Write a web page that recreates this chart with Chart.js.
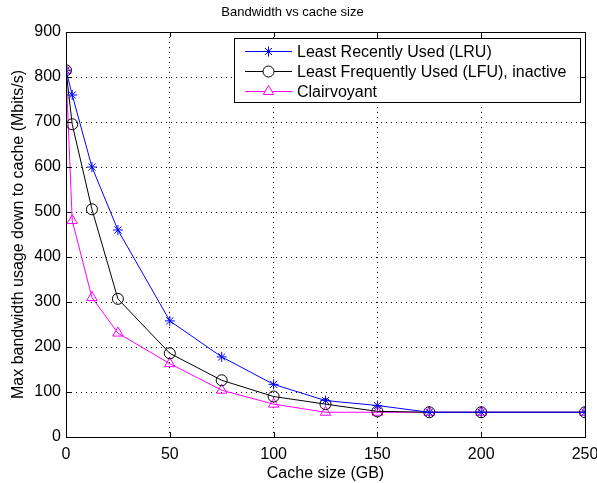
<!DOCTYPE html>
<html><head><meta charset="utf-8">
<script src="https://cdn.jsdelivr.net/npm/chart.js@4"></script>
<style>html,body{margin:0;padding:0;background:#fff}#wrap{width:597px;height:483px}</style>
</head><body><div id="wrap"><canvas id="c" width="597" height="483"></canvas></div>
<script>
const cacheSizes = [0, 3, 12.5, 25, 50, 75, 100, 125, 150, 175, 200, 250];
const lruValues = [815, 760, 600, 460, 258, 178, 117, 81, 70, 55, 55, 55];
const lfuValues = [815, 695, 506, 307, 186, 126, 90, 73, 57, 55, 55, 55];
const clairValues = [815, 481, 310, 231, 163, 104, 73, 55, 55, 55, 55, 55];
const seriesLabels = ['Least Recently Used (LRU)', 'Least Frequently Used (LFU), inactive', 'Clairvoyant'];
const xTicks = [0, 50, 100, 150, 200, 250];
const yTicks = [0, 100, 200, 300, 400, 500, 600, 700, 800, 900];
const FONT = 'Liberation Sans, Arial, Helvetica, sans-serif';

function pts(vals){ return cacheSizes.map((x,i)=>({x:x,y:vals[i]})); }

const boxPlugin = {
  id:'boxPlugin',
  afterDraw(chart){
    const {ctx, chartArea:a, scales} = chart;
    ctx.save();
    ctx.strokeStyle='#000'; ctx.lineWidth=1;
    ctx.strokeRect(Math.round(a.left)+0.5, Math.round(a.top)+0.5, Math.round(a.right-a.left), Math.round(a.bottom-a.top));
    const L=5;
    ctx.beginPath();
    xTicks.forEach(v=>{const px=Math.round(scales.x.getPixelForValue(v))+0.5;
      ctx.moveTo(px,a.bottom); ctx.lineTo(px,a.bottom-L);
      ctx.moveTo(px,a.top); ctx.lineTo(px,a.top+L);});
    yTicks.forEach(v=>{const py=Math.round(scales.y.getPixelForValue(v))+0.5;
      ctx.moveTo(a.left,py); ctx.lineTo(a.left+L,py);
      ctx.moveTo(a.right,py); ctx.lineTo(a.right-L,py);});
    ctx.stroke();
    // legend
    const lx=234.5, ly=38.5, lw=346, lh=64;
    ctx.fillStyle='#fff'; ctx.fillRect(lx,ly,lw,lh);
    ctx.strokeRect(lx,ly,lw,lh);
    ctx.font='16px '+FONT; ctx.textBaseline='middle'; ctx.textAlign='left';
    chart.data.datasets.forEach((ds,i)=>{
      const y=51.5+i*20;
      ctx.strokeStyle=ds.borderColor; ctx.lineWidth=1;
      ctx.beginPath(); ctx.moveTo(245,y); ctx.lineTo(292,y); ctx.stroke();
      ctx.fillStyle='#fff';
      Chart.helpers.drawPoint(ctx,{pointStyle:ds.pointStyle,rotation:0,radius:ds.pointRadius,borderWidth:1},268.5,y);
      ctx.fillStyle='#000'; ctx.fillText(ds.label,297,y+1);
    });
    ctx.restore();
  }
};

new Chart(document.getElementById('c'),{
  type:'line',
  data:{datasets:[
    {label:seriesLabels[0],data:pts(lruValues),borderColor:'#0000ff',backgroundColor:'rgba(0,0,0,0)',pointStyle:'star',pointRadius:5,pointBorderColor:'#0000ff',pointBorderWidth:1,borderWidth:1,tension:0},
    {label:seriesLabels[1],data:pts(lfuValues),borderColor:'#000000',backgroundColor:'rgba(0,0,0,0)',pointStyle:'circle',pointRadius:5.5,pointBorderColor:'#000',pointBorderWidth:1,borderWidth:1,tension:0},
    {label:seriesLabels[2],data:pts(clairValues),borderColor:'#ff00ff',backgroundColor:'rgba(0,0,0,0)',pointStyle:'triangle',pointRadius:6,pointBorderColor:'#ff00ff',pointBorderWidth:1,borderWidth:1,tension:0}
  ]},
  options:{
    responsive:false, animation:false,
    layout:{padding:{left:0,right:12,top:0,bottom:0}},
    plugins:{
      legend:{display:false}, tooltip:{enabled:false},
      title:{display:true,text:'Bandwidth vs cache size',color:'#000',font:{family:FONT,size:13,weight:'normal'},padding:{top:5,bottom:11.4}}
    },
    scales:{
      x:{type:'linear',min:0,max:250,
        afterBuildTicks(s){s.ticks=xTicks.map(v=>({value:v}));},
        afterFit(s){s.height=46; s.paddingLeft=0; s.paddingRight=0;},
        grid:{color:'#000',lineWidth:1,tickLength:0,drawTicks:false},
        border:{display:false,dash:[1,4]},
        ticks:{color:'#000',font:{family:FONT,size:16},padding:8,maxRotation:0},
        title:{display:true,text:'Cache size (GB)',color:'#000',font:{family:FONT,size:16},padding:{top:0,bottom:0}}
      },
      y:{type:'linear',min:0,max:900,
        afterBuildTicks(s){s.ticks=yTicks.map(v=>({value:v}));},
        afterFit(s){s.width=66; s.paddingTop=0; s.paddingBottom=0;},
        grid:{color:'#000',lineWidth:1,drawTicks:false,tickLength:0},
        border:{display:false,dash:[1,4]},
        ticks:{color:'#000',font:{family:FONT,size:16},padding:5},
        title:{display:true,text:'Max bandwidth usage down to cache (Mbits/s)',color:'#000',font:{family:FONT,size:16},padding:{top:9,bottom:4}}
      }
    }
  },
  plugins:[boxPlugin]
});
</script></body></html>
